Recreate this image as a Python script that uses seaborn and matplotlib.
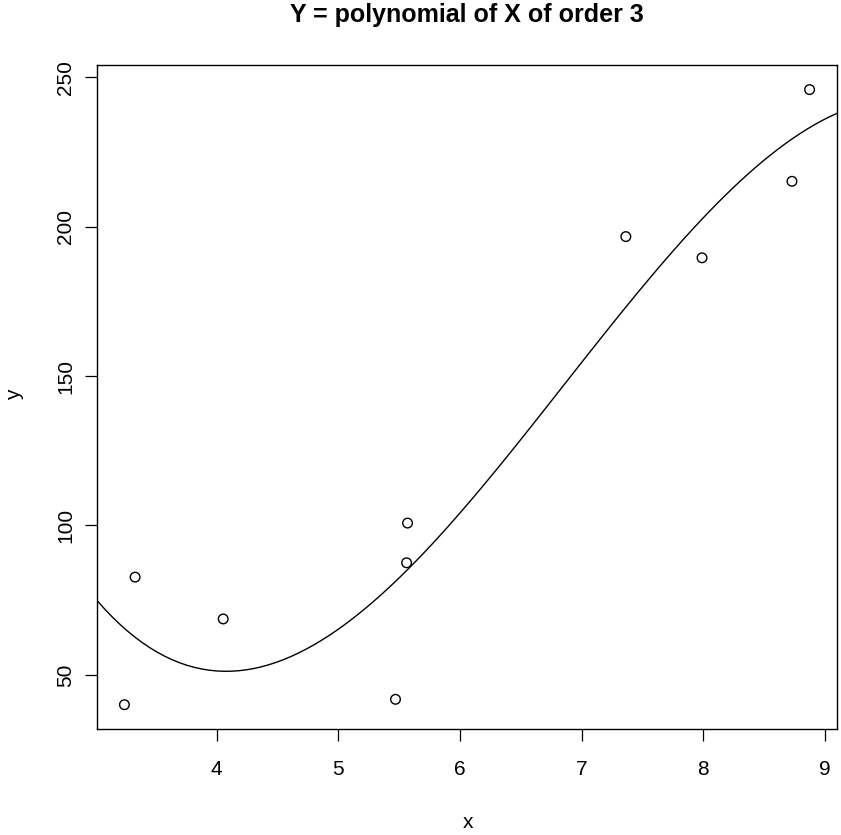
import numpy as np
import pandas as pd
import matplotlib
matplotlib.use("Agg")
import matplotlib.pyplot as plt
import seaborn as sns

# Observations
x_vals = [3.243, 3.331, 4.055, 5.471, 5.562, 5.570, 7.364, 7.990, 8.729, 8.874]
y_vals = [40.0, 82.7, 68.7, 41.8, 87.5, 100.8, 196.7, 189.6, 215.2, 245.9]
x_ticks = [4, 5, 6, 7, 8, 9]
y_ticks = [50, 100, 150, 200, 250]

df = pd.DataFrame({"x": x_vals, "y": y_vals})

sns.set_theme(style="white")
plt.rcParams["font.family"] = ["Liberation Sans", "DejaVu Sans"]

W, H = 841, 835
fig = plt.figure(figsize=(W / 100, H / 100), dpi=100)
ax = fig.add_axes([97 / W, (H - 729.3) / H, (837 - 97) / W, (729.3 - 65) / H])

# R-style axis limits: data range padded by 4% on each side
def padded(v):
    lo, hi = min(v), max(v)
    d = (hi - lo) * 0.04
    return lo - d, hi + d

sns.scatterplot(data=df, x="x", y="y", ax=ax, marker="o", s=48,
                facecolor="none", edgecolor="black", linewidth=1.0, zorder=3)
ax.set_xlim(*padded(x_vals))
ax.set_ylim(*padded(y_vals))
# cubic least-squares fit, drawn across the full x range
sns.regplot(data=df, x="x", y="y", ax=ax, order=3, ci=None, scatter=False,
            truncate=False, line_kws={"color": "black", "linewidth": 1.0})

ax.set_xlim(*padded(x_vals))
ax.set_ylim(*padded(y_vals))
ax.set_xticks(x_ticks)
ax.set_yticks(y_ticks)
ax.set_xticklabels([str(t) for t in x_ticks], fontsize=15)
ax.set_yticklabels([str(t) for t in y_ticks], fontsize=15, rotation=90, va="center")
ax.tick_params(axis="both", direction="out", length=8.5, width=0.9, color="black",
               labelcolor="black")
ax.tick_params(axis="x", pad=13.5, bottom=True)
ax.tick_params(axis="y", pad=7, left=True)

for s in ax.spines.values():
    s.set_visible(True)
    s.set_color("black")
    s.set_linewidth(1.0)

ax.set_xlabel("x", fontsize=15, color="black")
ax.set_ylabel("y", fontsize=15, color="black")
ax.xaxis.set_label_coords((468 - 97) / 740, -(823 - 729.3) / 664.3)
ax.xaxis.label.set_verticalalignment("center")
ax.yaxis.set_label_coords((15 - 97) / 740, (729.3 - 395) / 664.3)
ax.yaxis.label.set_verticalalignment("center")

fig.text(467 / W, 1 - 15 / H, "Y = polynomial of X of order 3", ha="center",
         va="center", fontsize=18, fontweight="bold", color="black")

fig.savefig("out.png", dpi=100, facecolor="white")
